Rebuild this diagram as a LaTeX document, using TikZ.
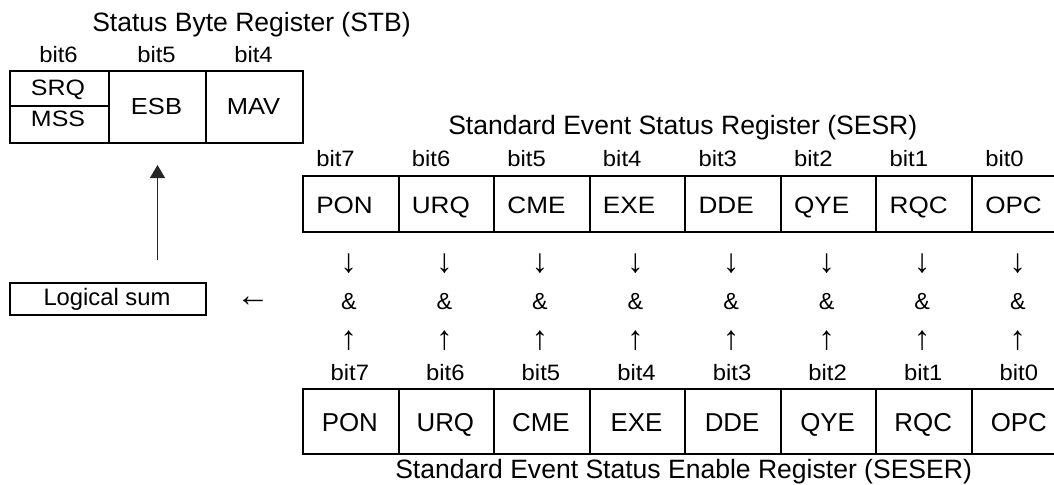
\documentclass[tikz,border=0pt]{standalone}
\usepackage{fontspec}
\setmainfont{Liberation Sans}
\newfontfamily\wideA{Liberation Sans}[FakeStretch=1.1]
\newfontfamily\wideB{Liberation Sans}[FakeStretch=1.07]
\newfontfamily\wideC{Liberation Sans}[FakeStretch=1.12]
\usetikzlibrary{arrows.meta}
\begin{document}
\begin{tikzpicture}[x=0.75pt,y=-0.75pt,
  box/.style={draw, line width=1.5pt, inner sep=0pt, anchor=north west},
  ttl/.style={inner sep=0pt, font=\fontsize{19.9pt}{24pt}\selectfont},
  celltxt/.style={inner sep=0pt, font=\wideA\fontsize{17.8pt}{22pt}\selectfont},
  lowtxt/.style={inner sep=0pt, font=\fontsize{19.4pt}{24pt}\selectfont},
  stbtxt/.style={inner sep=0pt, font=\wideC\fontsize{16.7pt}{20pt}\selectfont},
  stbtxtb/.style={inner sep=0pt, font=\wideA\fontsize{17.4pt}{20pt}\selectfont},
  bitlbl/.style={inner sep=0pt, font=\wideB\fontsize{16.7pt}{20pt}\selectfont},
  amp/.style={inner sep=0pt, font=\fontsize{17.5pt}{21pt}\selectfont},
  sym/.style={inner sep=0pt, font=\fontsize{25pt}{28pt}\selectfont},
  uparrow/.style={line width=0.9pt, draw=black!85, -{Triangle[width=11.25pt,length=9.75pt]}},
]
\useasboundingbox (0,0) rectangle (1054,485);
\clip (0,0) rectangle (1054,485);

% ---- Status Byte Register
\node[ttl, anchor=base west] (stbtitle) at (92,32) {Status Byte Register (STB)};
\node[bitlbl, anchor=base] (stbb6) at (58.5,63) {bit6};
\node[bitlbl, anchor=base] (stbb5) at (156.5,63) {bit5};
\node[bitlbl, anchor=base] (stbb4) at (253.5,63) {bit4};
\node[box, minimum width=74.25pt, minimum height=26.25pt] (srq) at (9,70) {};
\node[box, minimum width=74.25pt, minimum height=27.75pt] (mss) at (9,105) {};
\node[box, minimum width=72.75pt, minimum height=54pt] (esb) at (108,70) {};
\node[box, minimum width=72.75pt, minimum height=54pt] (mav) at (205,70) {};
\node[stbtxt, anchor=base] (srqt) at (58,96) {SRQ};
\node[stbtxt, anchor=base] (msst) at (58,127) {MSS};
\node[stbtxtb, anchor=base] (esbt) at (156.5,115) {ESB};
\node[stbtxtb, anchor=base] (mavt) at (253.5,115) {MAV};

% ---- Logical sum
\node[box, minimum width=147pt, minimum height=24pt] (ls) at (9,282) {};
\node[inner sep=0pt, font=\fontsize{17.85pt}{21pt}\selectfont, anchor=base] (lst) at (107,305) {Logical sum};
\node[sym] (larrow) at (253,302) {←};
\draw[uparrow, shorten <=16.5pt, shorten >=15.75pt] (esb.south |- ls.north) -- (esb.south);

% ---- Standard Event Status Register
\node[ttl, anchor=base west] (sesrtitle) at (448,134) {Standard Event Status Register (SESR)};
\node[ttl, anchor=base west] (sesertitle) at (395,478) {Standard Event Status Enable Register (SESER)};

\foreach \n [count=\i from 0] in {PON,URQ,CME,EXE,DDE,QYE,RQC,OPC} {
  \pgfmathsetmacro\xl{302+\i*95.57}
  \pgfmathsetmacro\xc{\xl+47.8}
  \pgfmathtruncatemacro\bn{7-\i}
  % upper register
  \node[bitlbl, anchor=base west] (sb\i) at (\xl+14,166.5) {bit\bn};
  \node[box, minimum width=71.68pt, minimum height=42pt] (s\i) at (\xl,175) {};
  \node[celltxt, anchor=base west] (st\i) at (\xl+14,213.5) {\n};
  % AND column
  \node[sym] (dn\i) at (\xc-1,264) {↓};
  \node[amp, anchor=base] (and\i) at (\xc-1,309) {\&};
  \node[sym] (up\i) at (\xc-1,341) {↑};
  % lower register
  \node[bitlbl, anchor=base] (eb\i) at (\xc,380.5) {bit\bn};
  \node[box, minimum width=71.68pt, minimum height=48.75pt] (e\i) at (\xl,388) {};
  \node[lowtxt, anchor=base] (et\i) at (\xc,431.7) {\n};
}
\end{tikzpicture}
\end{document}
